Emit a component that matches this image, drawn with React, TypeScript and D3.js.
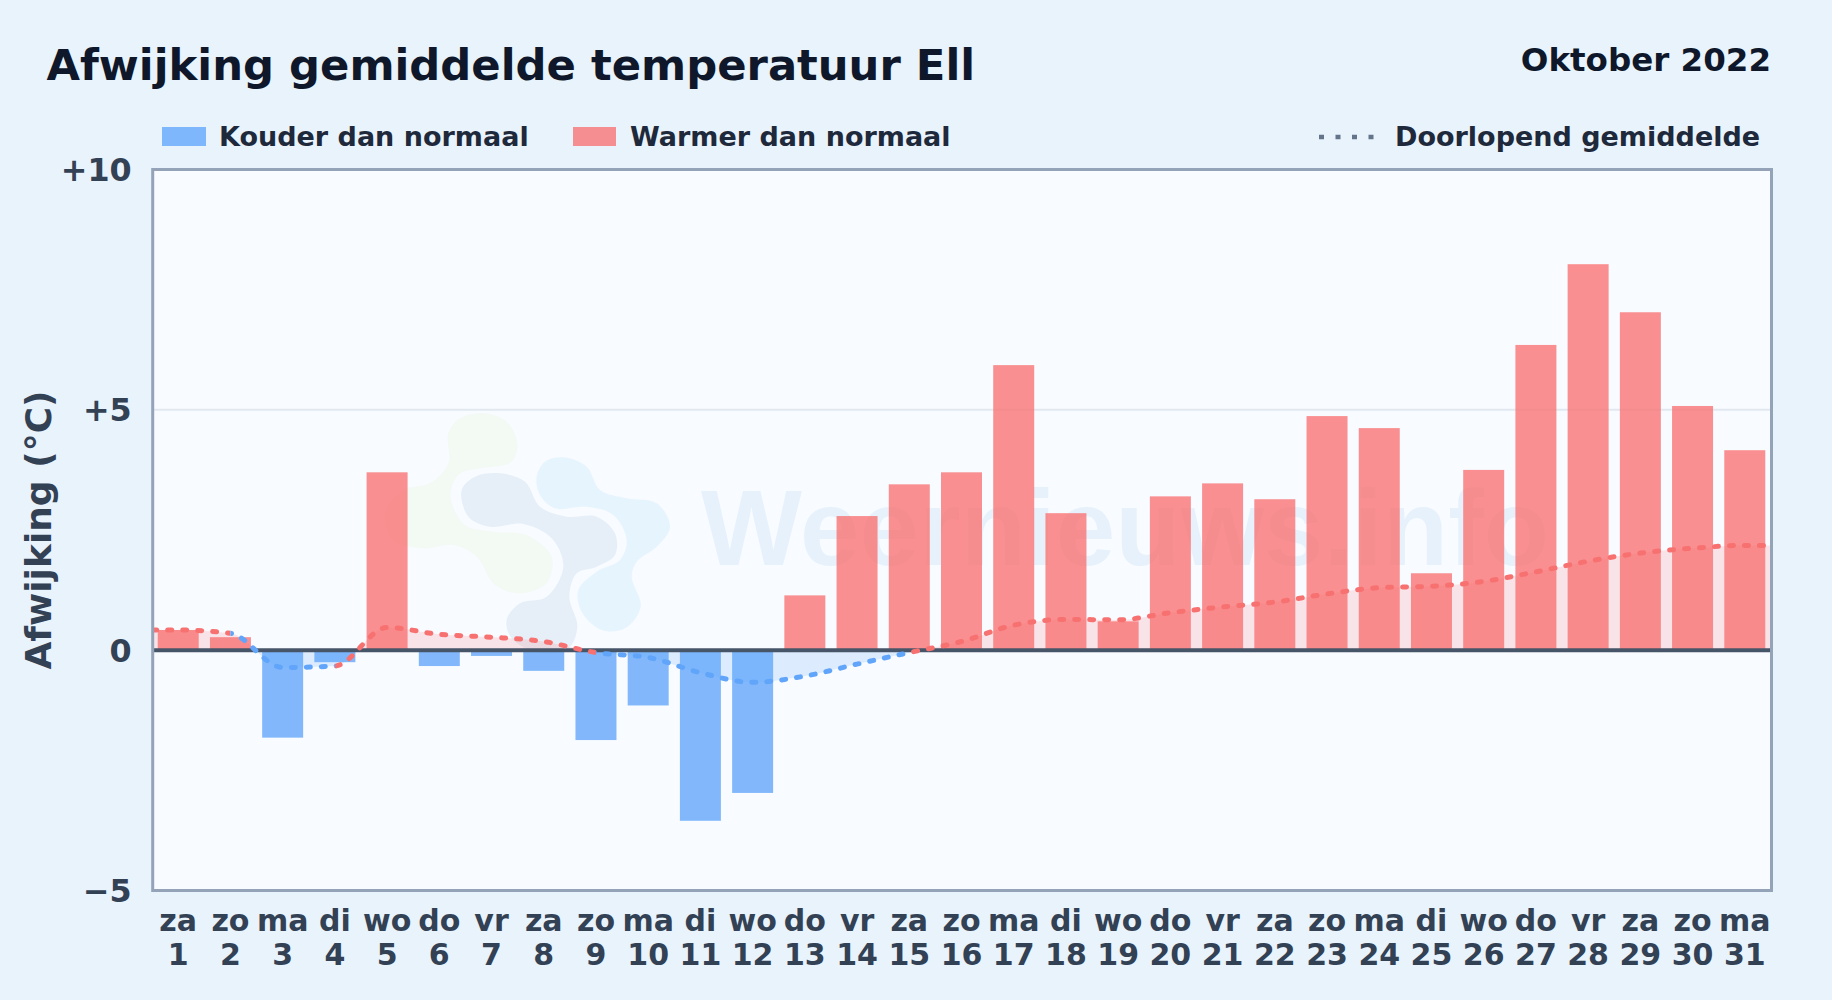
import React from "react";
import * as d3 from "d3";

const title = "Afwijking gemiddelde temperatuur Ell";
const period = "Oktober 2022";
const yAxisLabel = "Afwijking (°C)";
const watermark = "Weernieuws.info";
const legendCold = "Kouder dan normaal";
const legendWarm = "Warmer dan normaal";
const legendTrend = "Doorlopend gemiddelde";

const weekdays = ["za","zo","ma","di","wo","do","vr","za","zo","ma","di","wo","do","vr","za","zo","ma","di","wo","do","vr","za","zo","ma","di","wo","do","vr","za","zo","ma"];
const days = d3.range(1, 32);
const deviation = [0.42,0.27,-1.82,-0.25,3.7,-0.33,-0.12,-0.43,-1.87,-1.15,-3.55,-2.97,1.14,2.79,3.45,3.7,5.93,2.85,0.6,3.2,3.47,3.14,4.87,4.62,1.6,3.75,6.35,8.03,7.03,5.08,4.16];
const runningMean = [0.42,0.35,-0.36,-0.33,0.47,0.33,0.27,0.18,-0.05,-0.15,-0.47,-0.67,-0.54,-0.29,-0.05,0.18,0.52,0.64,0.63,0.78,0.9,1.0,1.17,1.3,1.33,1.43,1.63,1.85,2.02,2.12,2.18];
const coldRuns = [[2,4],[9,15]];
const yTicks = [10,5,0,-5];

const logoGreen = [[205,100],[240,55],[310,40],[380,65],[412,130],[395,185],[300,205],[235,225],[212,290],[255,375],[340,395],[440,405],[515,470],[500,550],[420,580],[345,555],[290,470],[220,435],[130,445],[40,420],[15,340],[70,270],[150,250],[205,190]];
const logoSlate = [[245,270],[285,230],[360,220],[435,245],[480,320],[560,350],[650,350],[705,400],[705,465],[650,500],[590,520],[568,590],[592,680],[565,745],[480,760],[395,715],[380,660],[420,610],[500,590],[550,500],[515,415],[430,372],[330,380],[265,350]];
const logoBlue = [[470,230],[495,185],[550,172],[620,200],[660,270],[740,295],[830,310],[870,380],[830,440],[770,485],[755,530],[782,620],[735,685],[665,690],[605,635],[595,570],[650,515],[720,480],[740,420],[700,345],[620,320],[525,325],[480,285]];

const W = 1832, H = 1000;
const L = 152.7, R = 1771.5, T = 169.5, B = 890.5;
const FONT = "'DejaVu Sans', sans-serif";
const BLUE = "#60a5fa", RED = "#f87171";

const x = d3.scaleBand<number>().domain(days).range([L - 0.6, R - 0.6]).paddingInner(0.215).paddingOuter(0.1075);
const y = d3.scaleLinear().domain([-5, 10]).range([B, T]);
const cx = (d: number) => x(d)! + x.bandwidth() / 2;

type P = { px: number; v: number };
const trendPoints: P[] = [
  { px: L, v: runningMean[0] },
  ...days.map((d, i) => ({ px: cx(d), v: runningMean[i] })),
  { px: R, v: runningMean[30] },
];
const trendLine = d3.line<P>().x(p => p.px).y(p => y(p.v)).curve(d3.curveMonotoneX);
const trendArea = d3.area<P>().x(p => p.px).y0(y(0)).y1(p => y(p.v)).curve(d3.curveMonotoneX);
const blob = d3.line<number[]>().x(p => p[0] / 3 + 380).y(p => p[1] / 3 + 400).curve(d3.curveCatmullRomClosed.alpha(0.5));

const coldRects = coldRuns.map(([a, b]) => ({ x0: cx(a), x1: cx(b) }));
const warmBreaks = [L, ...coldRects.flatMap(r => [r.x0, r.x1]), R];
const warmRects = d3.range(0, warmBreaks.length, 2).map(i => ({ x0: warmBreaks[i], x1: warmBreaks[i + 1] }));

export default function App() {
  return (
    <svg width={W} height={H} viewBox={`0 0 ${W} ${H}`} style={{ position: "absolute", left: 0, top: 0, display: "block", fontFamily: FONT, fontWeight: 700 }}>
      <defs>
        <clipPath id="plot"><rect x={L} y={T} width={R - L} height={B - T} /></clipPath>
        <clipPath id="above"><rect x={L} y={T} width={R - L} height={y(0) - T} /></clipPath>
        <clipPath id="below"><rect x={L} y={y(0)} width={R - L} height={B - y(0)} /></clipPath>
        <clipPath id="warmLine">{warmRects.map((r, i) => <rect key={i} x={r.x0} y={T} width={r.x1 - r.x0} height={B - T} />)}</clipPath>
        <clipPath id="coldLine">{coldRects.map((r, i) => <rect key={i} x={r.x0} y={T} width={r.x1 - r.x0} height={B - T} />)}</clipPath>
      </defs>
      <rect width={W} height={H} fill="#e8f3fc" />
      <text x={46.5} y={79.5} fontSize={43.3} fill="#0f172a">{title}</text>
      <text x={1771} y={70.5} fontSize={32.5} fill="#0f172a" textAnchor="end">{period}</text>

      <rect x={162} y={127} width={44} height={19} fill={BLUE} fillOpacity={0.78} />
      <text x={219} y={146} fontSize={27} fill="#1e293b">{legendCold}</text>
      <rect x={573} y={127} width={43} height={19} fill={RED} fillOpacity={0.78} />
      <text x={630} y={146} fontSize={27} fill="#1e293b">{legendWarm}</text>
      <line x1={1319} x2={1376} y1={137} y2={137} stroke="#64748b" strokeWidth={4.5} strokeDasharray="5 11.5" />
      <text x={1395} y={146} fontSize={27} fill="#1e293b">{legendTrend}</text>

      <rect x={L} y={T} width={R - L} height={B - T} fill="#f8fbff" />
      <g clipPath="url(#plot)">
        <path d={blob(logoGreen)!} fill="#f3f9f3" />
        <path d={blob(logoSlate)!} fill="#e6eff8" />
        <path d={blob(logoBlue)!} fill="#e6f4fe" />
        <text x={701} y={565} fontFamily="'Liberation Sans', sans-serif" fontSize={107} fill="#e6f1fb">{watermark}</text>
      </g>
      <line x1={L} x2={R} y1={y(5)} y2={y(5)} stroke="#e2e8f0" strokeWidth={2} />

      <path d={trendArea(trendPoints)!} fill={RED} fillOpacity={0.16} clipPath="url(#above)" />
      <path d={trendArea(trendPoints)!} fill={BLUE} fillOpacity={0.18} clipPath="url(#below)" />

      {days.map((d, i) => {
        const v = deviation[i];
        return <rect key={d} x={x(d)} y={y(Math.max(v, 0))} width={x.bandwidth()} height={Math.abs(y(v) - y(0))} fill={v < 0 ? BLUE : RED} fillOpacity={0.78} />;
      })}

      <line x1={L} x2={R} y1={y(0)} y2={y(0)} stroke="#475569" strokeWidth={4} />

      <g fill="none" strokeWidth={5} strokeLinecap="round" strokeDasharray="4 11">
        <g clipPath="url(#warmLine)"><path d={trendLine(trendPoints)!} stroke={RED} /></g>
        <g clipPath="url(#coldLine)"><path d={trendLine(trendPoints)!} stroke={BLUE} /></g>
      </g>

      <rect x={L} y={T} width={R - L} height={B - T} fill="none" stroke="#94a3b8" strokeWidth={3} />

      {yTicks.map(t => (
        <text key={t} x={131.7} y={y(t) + 11.5} textAnchor="end" fontSize={31.8} fill="#334155">
          {t > 0 ? `+${t}` : t < 0 ? `\u2212${-t}` : "0"}
        </text>
      ))}
      <text transform={`translate(50.5,${(T + B) / 2}) rotate(-90)`} textAnchor="middle" fontSize={36} fill="#334155">{yAxisLabel}</text>

      {days.map((d, i) => (
        <g key={d} textAnchor="middle" fontSize={30} fill="#334155">
          <text x={cx(d)} y={931}>{weekdays[i]}</text>
          <text x={cx(d)} y={965}>{d}</text>
        </g>
      ))}
    </svg>
  );
}
